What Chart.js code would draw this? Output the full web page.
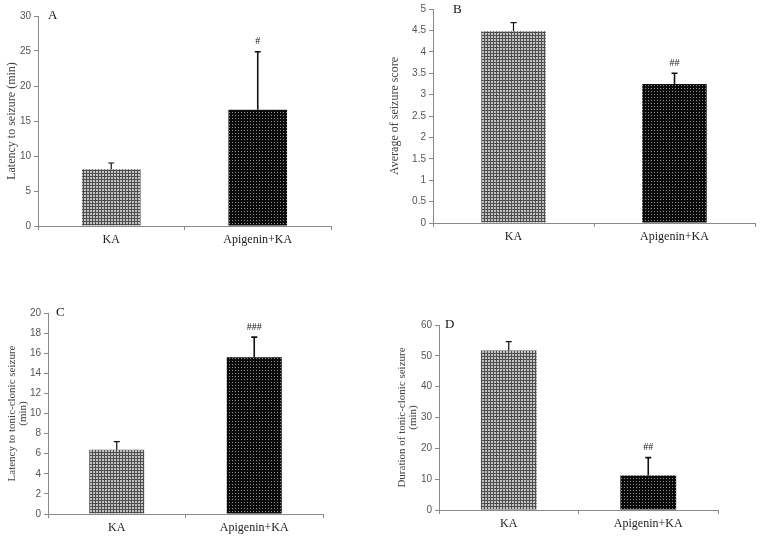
<!DOCTYPE html>
<html><head><meta charset="utf-8">
<script src="https://cdn.jsdelivr.net/npm/chart.js@4.4.1/dist/chart.umd.min.js"></script>
<style>
html,body{margin:0;padding:0;background:#fff;}
body{width:762px;height:538px;position:relative;overflow:hidden;}
.p{position:absolute;}
</style></head><body>
<div class="p" style="left:0;top:0;width:380px;height:260px"><canvas id="cA"></canvas></div>
<div class="p" style="left:380px;top:0;width:382px;height:260px"><canvas id="cB"></canvas></div>
<div class="p" style="left:0;top:270px;width:380px;height:268px"><canvas id="cC"></canvas></div>
<div class="p" style="left:380px;top:270px;width:382px;height:268px"><canvas id="cD"></canvas></div>
<script>
const categories = ['KA', 'Apigenin+KA'];

const latencyMeans = [8.1, 16.6];
const latencyErrors = [0.9, 8.3];
const latencyMarks = ['', '#'];

const scoreMeans = [4.48, 3.25];
const scoreErrors = [0.2, 0.25];
const scoreMarks = ['', '##'];

const tonicLatencyMeans = [6.4, 15.6];
const tonicLatencyErrors = [0.8, 2.0];
const tonicLatencyMarks = ['', '###'];

const durationMeans = [51.7, 11.2];
const durationErrors = [2.9, 5.8];
const durationMarks = ['', '##'];

function makePattern(kind){
  const c = document.createElement('canvas');
  c.width = 3; c.height = 3;
  const g = c.getContext('2d');
  if (kind === 'gray') {
    g.fillStyle = '#4e4e4e'; g.fillRect(0,0,3,3);
    g.fillStyle = '#c2c2c2';
    g.fillRect(0,0,2,2);
  } else {
    g.fillStyle = '#0a0a0a'; g.fillRect(0,0,3,3);
    g.fillStyle = '#8e8e8e';
    g.fillRect(1,1,1,1);
  }
  return g.createPattern(c, 'repeat');
}
const grayPat = makePattern('gray');
const blackPat = makePattern('black');

const errPlugin = {
  id: 'errbars',
  afterDatasetsDraw(chart, args, opts) {
    const ctx = chart.ctx;
    const ds = chart.data.datasets[0];
    const meta = chart.getDatasetMeta(0);
    const y = chart.scales.y;
    ctx.save();
    ds.data.forEach((v, i) => {
      const bar = meta.data[i];
      const x = bar.x;
      const yTop = y.getPixelForValue(v);
      const yErr = y.getPixelForValue(v + opts.errors[i]);
      ctx.strokeStyle = '#111';
      ctx.lineWidth = i === 1 ? 1.6 : 1.2;
      ctx.beginPath();
      ctx.moveTo(x, yTop); ctx.lineTo(x, yErr);
      ctx.moveTo(x - 3, yErr); ctx.lineTo(x + 3, yErr);
      ctx.stroke();
      if (opts.marks[i]) {
        ctx.fillStyle = '#222';
        ctx.font = '10px "Liberation Serif", serif';
        ctx.textAlign = 'center';
        ctx.textBaseline = 'bottom';
        ctx.fillText(opts.marks[i], x, yErr - 5);
      }
    });
    ctx.fillStyle = '#111';
    ctx.font = '13px "Liberation Serif", serif';
    ctx.textAlign = 'left';
    ctx.textBaseline = 'middle';
    ctx.fillText(opts.letter, chart.chartArea.left + opts.letterDx, chart.chartArea.top + opts.letterDy);
    ctx.restore();
  }
};

function build(id, means, errors, marks, cfg) {
  const canvas = document.getElementById(id);
  const W = canvas.parentNode.clientWidth, H = canvas.parentNode.clientHeight;
  new Chart(canvas, {
    type: 'bar',
    data: {
      labels: categories,
      datasets: [{
        data: means,
        backgroundColor: [grayPat, blackPat],
        borderWidth: 0,
        barPercentage: 0.4,
        categoryPercentage: 1.0
      }]
    },
    options: {
      responsive: true,
      maintainAspectRatio: false,
      animation: false,
      events: [],
      layout: { padding: { left: 0, top: cfg.top, right: W - cfg.right, bottom: 0 } },
      plugins: {
        legend: { display: false },
        tooltip: { enabled: false },
        errbars: { errors: errors, marks: marks, letter: cfg.letter, letterDx: cfg.ldx, letterDy: cfg.ldy }
      },
      scales: {
        x: {
          offset: true,
          afterFit: s => { s.height = H - cfg.bottom; },
          grid: { display: true, drawOnChartArea: false, offset: true, tickLength: 4, color: '#8a8a8a' },
          border: { display: true, color: '#8a8a8a', width: 1 },
          ticks: { color: '#222', font: { family: '"Liberation Serif", serif', size: 12 }, padding: 3 }
        },
        y: {
          min: 0, max: cfg.max,
          afterFit: s => { s.width = cfg.left; },
          grid: { display: true, drawOnChartArea: false, tickLength: 4, color: '#8a8a8a' },
          border: { display: true, color: '#8a8a8a', width: 1 },
          ticks: { stepSize: cfg.step, color: '#555', font: { family: '"Liberation Sans", sans-serif', size: 10 }, padding: 3,
                   callback: v => String(Number(v.toFixed(2))) },
          title: { display: true, text: cfg.title, color: '#444',
                   font: { family: '"Liberation Serif", serif', size: cfg.tsize, lineHeight: cfg.tlh },
                   padding: { top: cfg.tpad, bottom: 0 } }
        }
      }
    },
    plugins: [errPlugin]
  });
}

build('cA', latencyMeans, latencyErrors, latencyMarks,
  { left: 38, right: 331, top: 16, bottom: 226, max: 30, step: 5, title: 'Latency to seizure (min)',
    tsize: 12, tlh: 1.2, tpad: 5, letter: 'A', ldx: 10, ldy: 0 });
build('cB', scoreMeans, scoreErrors, scoreMarks,
  { left: 53, right: 375, top: 9, bottom: 223, max: 5, step: 0.5, title: 'Average of seizure score',
    tsize: 12, tlh: 1.2, tpad: 8, letter: 'B', ldx: 20, ldy: 1 });
build('cC', tonicLatencyMeans, tonicLatencyErrors, tonicLatencyMarks,
  { left: 48, right: 323, top: 43, bottom: 244, max: 20, step: 2, title: ['Latency to tonic-clonic seizure', '(min)'],
    tsize: 11, tlh: 0.95, tpad: 7, letter: 'C', ldx: 8, ldy: 0 });
build('cD', durationMeans, durationErrors, durationMarks,
  { left: 59, right: 338, top: 55, bottom: 240, max: 60, step: 10, title: ['Duration of tonic-clonic seizure', '(min)'],
    tsize: 11, tlh: 0.95, tpad: 17, letter: 'D', ldx: 6, ldy: 0 });
</script>
</body></html>
